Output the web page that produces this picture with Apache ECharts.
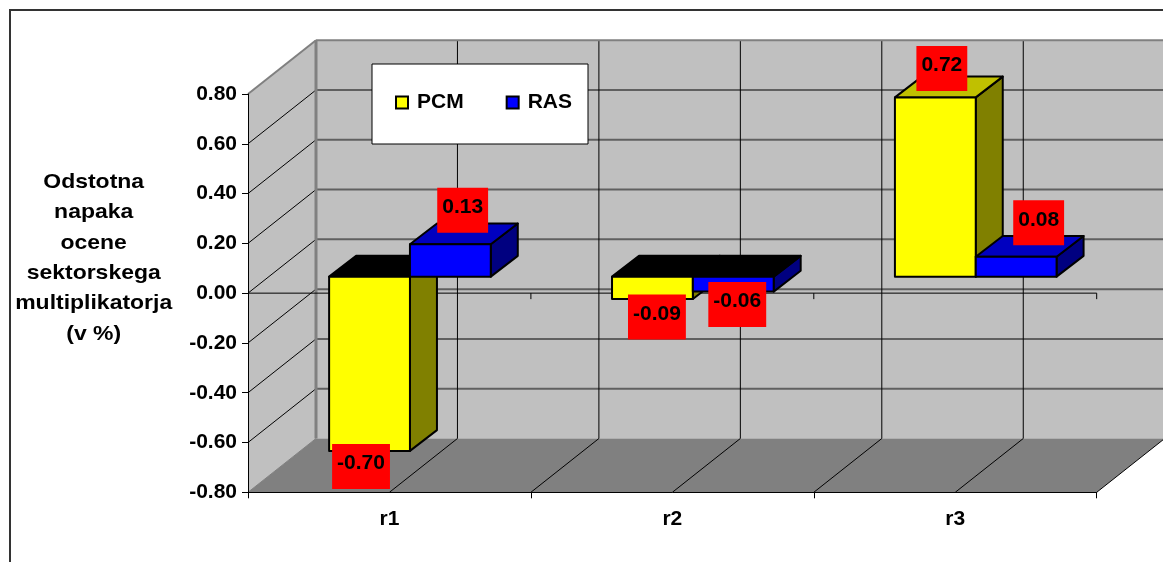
<!DOCTYPE html>
<html>
<head>
<meta charset="utf-8">
<style>
  html, body { margin: 0; padding: 0; background: #fff; overflow: hidden; }
  #chart { width: 1163px; height: 562px; }
</style>
<script src="https://cdn.jsdelivr.net/npm/echarts@6/dist/echarts.min.js"></script>
</head>
<body>
<div id="chart"></div>
<script>
'use strict';

var categories = ['r1', 'r2', 'r3'];
var pcmValues = [-0.70, -0.09, 0.72];
var rasValues = [0.13, -0.06, 0.08];
var yMin = -0.8;
var yMax = 0.8;
var yStep = 0.2;
var titleLines = ['Odstotna', 'napaka', 'ocene', 'sektorskega', 'multiplikatorja', '(v %)'];

// fake 3d: how far the back wall and the bars sit from the front plane
var WALL_DX = 68, WALL_DY = -53.8;
var BAR_DX = 20.5, BAR_DY = -16.5;
var DEPTH_DX = 27, DEPTH_DY = -20.8;
var FONT = 'bold 21px "Liberation Sans", Arial, sans-serif';

// the data labels were dragged by hand in the original, offset from bar end
var pcmLabelShift = [[-8.5, 15.7], [4.5, 18], [6.5, -29]];
var rasLabelShift = [[12.3, -34], [4, 13], [22.5, -34]];

var chart = echarts.init(document.getElementById('chart'));

function line(x1, y1, x2, y2, color, width) {
  return {
    type: 'line',
    shape: { x1: x1, y1: y1, x2: x2, y2: y2 },
    style: { stroke: color, lineWidth: width }
  };
}

function poly(points, fill) {
  return {
    type: 'polygon',
    shape: { points: points },
    style: { fill: fill, stroke: '#000', lineWidth: 2, lineJoin: 'round' }
  };
}

// walls, floor and their gridlines
function renderWalls(params, api) {
  var band = api.size([1, 0])[0];
  var left = api.coord([0, yMin])[0] - band / 2;
  var right = left + band * categories.length;
  var top = api.coord([0, yMax])[1];
  var bottom = api.coord([0, yMin])[1];
  var zero = api.coord([0, 0])[1];
  var kids = [];

  kids.push({
    type: 'polygon',
    shape: { points: [[left, top], [left + WALL_DX, top + WALL_DY], [left + WALL_DX, bottom + WALL_DY], [left, bottom]] },
    style: { fill: '#c0c0c0' }
  });
  kids.push({
    type: 'rect',
    shape: { x: left + WALL_DX, y: top + WALL_DY, width: band * categories.length, height: bottom - top },
    style: { fill: '#c0c0c0' }
  });
  kids.push({
    type: 'polygon',
    shape: { points: [[left, bottom], [right, bottom], [right + WALL_DX, bottom + WALL_DY], [left + WALL_DX, bottom + WALL_DY]] },
    style: { fill: '#808080' }
  });

  var v, y, k;
  for (k = 1; k * yStep < yMax - yMin - 1e-9; k++) {
    v = yMin + k * yStep;
    y = api.coord([0, v])[1];
    kids.push(line(left + WALL_DX, y + WALL_DY, right + WALL_DX, y + WALL_DY, '#606060', 2));
    kids.push(line(left, y, left + WALL_DX, y + WALL_DY, '#000', 1));
  }
  for (k = 1; k <= categories.length * 2; k++) {
    var fx = left + k * band / 2;
    kids.push(line(fx + WALL_DX, top + WALL_DY, fx + WALL_DX, bottom + WALL_DY, '#000', 1));
    kids.push(line(fx, bottom, fx + WALL_DX, bottom + WALL_DY, '#000', 1));
  }
  kids.push(line(left, bottom, left + WALL_DX, bottom + WALL_DY, '#808080', 1));
  kids.push(line(left, top, left + WALL_DX, top + WALL_DY, '#808080', 2));
  kids.push(line(left + WALL_DX, top + WALL_DY, right + WALL_DX, top + WALL_DY, '#808080', 2));
  kids.push(line(left + WALL_DX, top + WALL_DY, left + WALL_DX, bottom + WALL_DY, '#808080', 3));

  // category axis at zero on the front plane
  kids.push(line(left, zero, right, zero, '#000', 1));
  for (k = 1; k <= categories.length; k++) {
    kids.push(line(left + k * band, zero, left + k * band, zero + 6, '#000', 1));
  }
  return { type: 'group', children: kids };
}

function makeBarRenderer(slot, front, side, topPos) {
  return function (params, api) {
    var band = api.size([1, 0])[0];
    var barW = band / 3.5;
    var i = api.value(0);
    var val = api.value(1);
    var x0 = api.coord([i, 0])[0] - band / 2 + 0.75 * barW + slot * barW + BAR_DX;
    var x1 = x0 + barW;
    var y0 = api.coord([i, 0])[1] + BAR_DY;
    var yv = api.coord([i, val])[1] + BAR_DY;
    var t = Math.min(y0, yv);
    var b = Math.max(y0, yv);
    return {
      type: 'group',
      children: [
        poly([[x1, t], [x1 + DEPTH_DX, t + DEPTH_DY], [x1 + DEPTH_DX, b + DEPTH_DY], [x1, b]], side),
        poly([[x0, t], [x0 + DEPTH_DX, t + DEPTH_DY], [x1 + DEPTH_DX, t + DEPTH_DY], [x1, t]], val < 0 ? '#000' : topPos),
        poly([[x0, t], [x1, t], [x1, b], [x0, b]], front)
      ]
    };
  };
}

function makeLabelRenderer(slot, shift) {
  return function (params, api) {
    var band = api.size([1, 0])[0];
    var barW = band / 3.5;
    var i = api.value(0);
    var val = api.value(1);
    var cx = api.coord([i, 0])[0] - band / 2 + 0.75 * barW + (slot + 0.5) * barW + BAR_DX;
    var end = api.coord([i, val])[1] + BAR_DY;
    return {
      type: 'text',
      style: {
        text: val.toFixed(2),
        x: cx + shift[i][0],
        y: end + shift[i][1] - 22.5,
        align: 'center',
        verticalAlign: 'top',
        font: FONT,
        lineHeight: 21,
        fill: '#000',
        backgroundColor: '#f00',
        padding: [9, 5, 15, 5]
      }
    };
  };
}

function pairs(values) {
  return values.map(function (v, i) { return [i, v]; });
}

chart.setOption({
  animation: false,
  backgroundColor: '#fff',
  grid: { left: 248, right: 66.3, top: 94, bottom: 69.7, containLabel: false },
  legend: {
    data: ['PCM', 'RAS'],
    left: 372,
    top: 64,
    padding: [28, 16, 31, 23],
    itemWidth: 12,
    itemHeight: 12,
    itemGap: 42,
    icon: 'rect',
    backgroundColor: '#fff',
    borderColor: '#000',
    borderWidth: 1,
    selectedMode: false,
    z: 8,
    textStyle: {
      fontFamily: '"Liberation Sans", Arial, sans-serif',
      fontWeight: 'bold',
      fontSize: 21,
      color: '#000',
      padding: [0, 0, 0, 4]
    }
  },
  xAxis: {
    type: 'category',
    data: categories,
    z: 5,
    axisLine: { onZero: false, lineStyle: { color: '#000', width: 1 } },
    axisTick: { show: true, length: 6, lineStyle: { color: '#000' } },
    axisLabel: {
      margin: 16,
      color: '#000',
      fontFamily: '"Liberation Sans", Arial, sans-serif',
      fontWeight: 'bold',
      fontSize: 21
    },
    splitLine: { show: false }
  },
  yAxis: {
    type: 'value',
    min: yMin,
    max: yMax,
    interval: yStep,
    z: 5,
    axisLine: { show: true, lineStyle: { color: '#000', width: 1 } },
    axisTick: { show: true, length: 6, lineStyle: { color: '#000' } },
    axisLabel: {
      margin: 11,
      color: '#000',
      fontFamily: '"Liberation Sans", Arial, sans-serif',
      fontWeight: 'bold',
      fontSize: 21,
      formatter: function (v) { return v.toFixed(2); }
    },
    splitLine: { show: false }
  },
  series: [
    { type: 'custom', name: 'walls', z: 1, silent: true, clip: false, data: [[0, 0]], encode: { x: 0, y: 1 }, renderItem: renderWalls },
    {
      type: 'custom', name: 'PCM', z: 2, clip: false, data: pairs(pcmValues), encode: { x: 0, y: 1 },
      itemStyle: { color: '#ff0', borderColor: '#000', borderWidth: 2 },
      renderItem: makeBarRenderer(0, '#ff0', '#808000', '#c0c000')
    },
    {
      type: 'custom', name: 'RAS', z: 3, clip: false, data: pairs(rasValues), encode: { x: 0, y: 1 },
      itemStyle: { color: '#00f', borderColor: '#000', borderWidth: 2 },
      renderItem: makeBarRenderer(1, '#00f', '#000080', '#0000c0')
    },
    { type: 'custom', name: 'PCM labels', z: 6, clip: false, data: pairs(pcmValues), encode: { x: 0, y: 1 }, renderItem: makeLabelRenderer(0, pcmLabelShift) },
    { type: 'custom', name: 'RAS labels', z: 6, clip: false, data: pairs(rasValues), encode: { x: 0, y: 1 }, renderItem: makeLabelRenderer(1, rasLabelShift) }
  ],
  graphic: [
    {
      type: 'polyline',
      shape: { points: [[10, 562], [10, 10], [1163, 10]] },
      style: { stroke: '#333', lineWidth: 2, fill: null },
      z: 9
    },
    {
      type: 'text',
      x: 93.7,
      y: 258,
      scaleX: 1.094,
      z: 9,
      style: {
        text: titleLines.join('\n'),
        font: FONT,
        lineHeight: 30.3,
        fill: '#000',
        align: 'center',
        verticalAlign: 'middle'
      }
    }
  ]
});
</script>
</body>
</html>
